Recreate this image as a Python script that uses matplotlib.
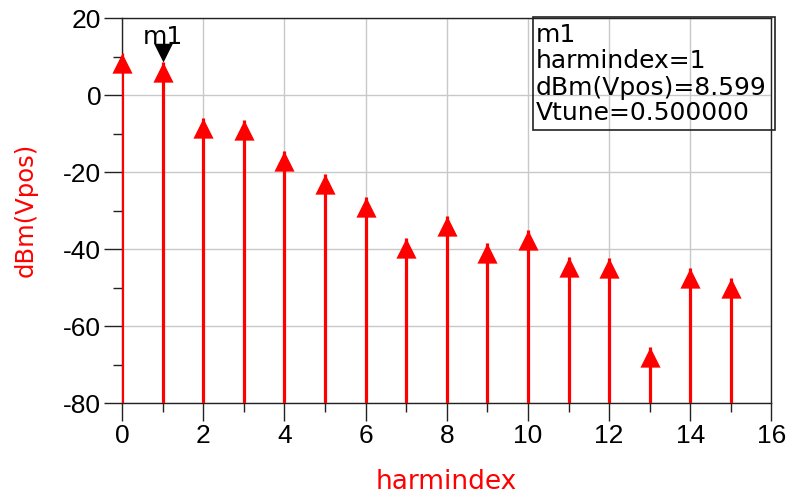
import matplotlib
matplotlib.use("Agg")
import matplotlib.pyplot as plt
import matplotlib.patches as mpatches
from matplotlib.ticker import MultipleLocator

harmindex = [0, 1, 2, 3, 4, 5, 6, 7, 8, 9, 10, 11, 12, 13, 14, 15]
dbm_vpos = [11.0, 8.599, -6.0, -6.5, -14.5, -20.5, -26.5, -37.0, -31.5,
            -38.5, -35.0, -42.0, -42.2, -65.5, -45.0, -47.5]
marker_name = "m1"
marker_index = 1
legend_lines = ["m1", "harmindex=1", "dBm(Vpos)=8.599", "Vtune=0.500000"]
x_ticks = [0, 2, 4, 6, 8, 10, 12, 14, 16]
y_ticks = [20, 0, -20, -40, -60, -80]

plt.rcParams["font.family"] = ["Liberation Sans", "DejaVu Sans"]
plt.rcParams["axes.unicode_minus"] = False

W, H = 788, 497
fig = plt.figure(figsize=(W / 100, H / 100), dpi=100)
L, R, T, B = 122, 771.5, 18, 403.3
ax = fig.add_axes([L / W, 1 - B / H, (R - L) / W, (B - T) / H])

ax.set_xlim(0, 16)
ax.set_ylim(-80, 20)
ax.set_xticks(x_ticks)
ax.set_yticks(y_ticks)
ax.xaxis.set_minor_locator(MultipleLocator(1))
ax.yaxis.set_minor_locator(MultipleLocator(10))
ax.grid(True, which="major", color="#c8c8c8", linewidth=1.0)
ax.set_axisbelow(True)

for s in ax.spines.values():
    s.set_color("#222222")
    s.set_linewidth(1.0)

ax.tick_params(which="major", direction="out", length=13, width=1.0,
               color="#222222", labelsize=19, pad=2)
ax.tick_params(which="minor", direction="out", length=6.5, width=1.0,
               color="#222222")

# stems
ax.vlines(harmindex, -80, dbm_vpos, colors="#ff0000", linewidth=2.3, zorder=3)
# arrow heads with tip at value
up_tri = [(-0.5, -1.0), (0.5, -1.0), (0.0, 0.0), (-0.5, -1.0)]
ax.plot(harmindex, dbm_vpos, linestyle="none", marker=up_tri, markersize=29,
        markerfacecolor="#ff0000", markeredgewidth=0, zorder=4, clip_on=False)

# marker m1
down_tri = [(-0.5, 1.0), (0.5, 1.0), (0.0, 0.0), (-0.5, 1.0)]
mv = dbm_vpos[marker_index]
ax.plot([marker_index], [mv], linestyle="none", marker=down_tri, markersize=27,
        markerfacecolor="black", markeredgewidth=0, zorder=5, clip_on=False)
ax.annotate(marker_name, xy=(marker_index, mv), xytext=(0, 18),
            textcoords="offset pixels", ha="center", va="baseline",
            fontsize=18, family="DejaVu Sans", color="black")

# axis labels
fig.text(25.5 / W, 1 - 210 / H, "dBm(Vpos)", rotation=90, color="#ff0000",
         fontsize=17.5, family="DejaVu Sans", ha="center", va="center")
fig.text(446 / W, 1 - 482 / H, "harmindex", color="#ff0000",
         fontsize=19, family="DejaVu Sans", ha="center", va="center")

# marker readout box
bx0, bx1, by0, by1 = 533, 775, 17, 130
fig.patches.append(mpatches.Rectangle((bx0 / W, 1 - by1 / H), (bx1 - bx0) / W,
                                      (by1 - by0) / H, transform=fig.transFigure,
                                      fill=False, edgecolor="#222222", linewidth=1.2))
baselines = [42, 68, 95, 120]
for txt, yb in zip(legend_lines, baselines):
    fig.text(536 / W, 1 - yb / H, txt, fontsize=18, family="DejaVu Sans",
             ha="left", va="baseline", color="black")

fig.savefig("out.png", dpi=100)
